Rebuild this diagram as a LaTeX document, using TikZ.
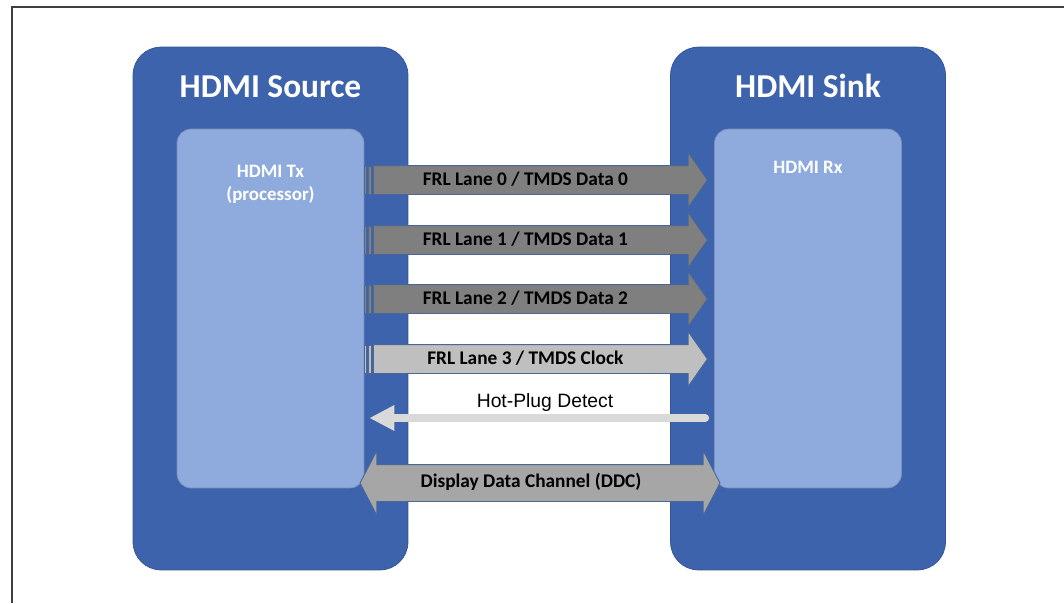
\documentclass[tikz,border=0pt]{standalone}
\usepackage{fontspec}
\setmainfont{Carlito}
\newfontfamily\arialfont{Liberation Sans}
\usetikzlibrary{shapes.arrows,arrows.meta}

\definecolor{hdmiblue}{HTML}{3C63AB}
\definecolor{hdmilight}{HTML}{8FAADC}
\definecolor{lanedark}{HTML}{7F7F7F}
\definecolor{lanelight}{HTML}{BFBFBF}
\definecolor{ddcgray}{HTML}{A6A6A6}
\definecolor{hpdgray}{HTML}{D9D9D9}
\definecolor{edgeblue}{HTML}{4A6796}
\definecolor{framegray}{HTML}{404040}

\tikzset{
  devicebox/.style={rectangle, rounded corners=0.56cm, fill=hdmiblue,
    draw=hdmiblue!85!black, line width=0.4pt, inner sep=0pt,
    minimum width=5.5cm, minimum height=10.46cm},
  chipbox/.style={rectangle, rounded corners=0.28cm, fill=hdmilight,
    draw=hdmilight!85!black, line width=0.4pt, inner sep=0pt,
    minimum width=3.74cm, minimum height=7.18cm},
  titletext/.style={anchor=base, text=white, inner sep=0pt,
    font=\fontsize{19}{22}\selectfont\bfseries},
  chiptext/.style={text=white, inner sep=0pt, align=center,
    font=\fontsize{10.8}{13}\selectfont\bfseries},
  lanearrow/.style={single arrow, draw=edgeblue, line width=0.5pt,
    single arrow head extend=0.26cm, single arrow tip angle=110,
    minimum height=6.68cm, inner xsep=0pt, inner ysep=0pt,
    text height=11pt, text depth=4.93pt, anchor=tail,
    font=\fontsize{11}{13}\selectfont\bfseries},
  ddcarrow/.style={double arrow, fill=ddcgray, draw=edgeblue, line width=0.5pt,
    double arrow head extend=0.28cm, double arrow tip angle=125,
    minimum height=7.2cm, inner xsep=0pt, inner ysep=0pt,
    text height=13pt, text depth=7.5pt,
    font=\fontsize{11}{13}\selectfont\bfseries},
  hpdline/.style={hpdgray, line width=4.5pt, line cap=round,
    -{Triangle[length=0.5cm, width=0.48cm]}},
}

\begin{document}
\begin{tikzpicture}[x=0.02cm, y=-0.02cm]
  \useasboundingbox (0,0) rectangle (1064,603);
  \draw[framegray, line width=1.1pt] (12,603) -- (12,7) -- (1064,7);

  % the two devices
  \node (source) [devicebox] at (270.5,308.5) {};
  \node (sink) [devicebox] at (808,308.5) {};
  \node (tx) [chipbox] at (270.5,308.5) {};
  \node (rx) [chipbox] at (808,308.5) {};

  \node (sourcelbl) [titletext] at (270.5,97) {HDMI Source};
  \node (sinklbl) [titletext] at (808,97) {HDMI Sink};
  \node (txlbl) [chiptext] at (270.5,184) {HDMI Tx\\(processor)};
  \node (rxlbl) [chiptext, anchor=base] at (808,173) {HDMI Rx};

  % FRL / TMDS lanes
  \foreach \i/\y/\col/\what in {0/180/lanedark/Data 0, 1/240/lanedark/Data 1,
      2/299/lanedark/Data 2, 3/359/lanelight/Clock} {
    \draw[fill=\col, draw=edgeblue, line width=0.3pt] (364.3,\y-14) rectangle (366.3,\y+14);
    \draw[fill=\col, draw=edgeblue, line width=0.3pt] (368.3,\y-14) rectangle (371,\y+14);
    \node (lane\i) [lanearrow, fill=\col] at (373,\y) {FRL Lane \i{} / TMDS \what\hspace*{0.4cm}};
  }

  % hot plug detect
  \coordinate (hpd) at (540,418);
  \draw[hpdline, shorten <=0.18cm, shorten >=0.1cm] (rx.west |- hpd) -- (tx.east |- hpd);
  \node (hpdlbl) [anchor=base, inner sep=0pt,
    font=\arialfont\fontsize{11}{13}\selectfont] at (545,407) {Hot-Plug Detect};

  % DDC
  \node (ddc) [ddcarrow] at (540,483) {Display Data Channel (DDC)\hspace*{0.36cm}};
\end{tikzpicture}
\end{document}
